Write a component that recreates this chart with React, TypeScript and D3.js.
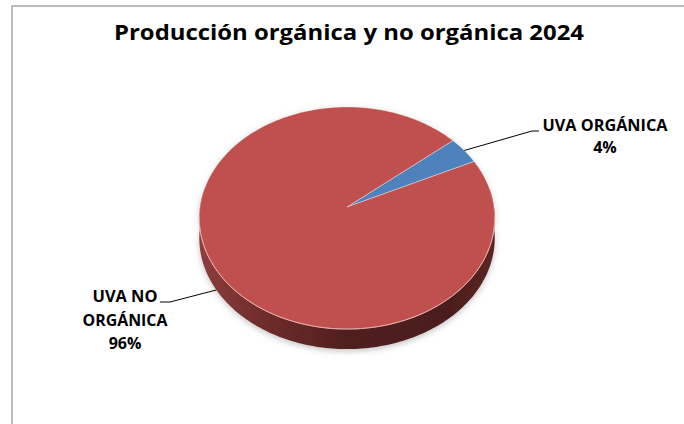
import React, { useMemo } from 'react';
import * as d3 from 'd3';

// Chart data
const categories = ['UVA ORGÁNICA', 'UVA NO ORGÁNICA'];
const shares = [4, 96];
const labelNames = [['UVA ORGÁNICA'], ['UVA NO', 'ORGÁNICA']];
const title = 'Producción orgánica y no orgánica 2024';

const W = 684;
const H = 424;

// 3D pie projection (perspective tilt like Excel's 3-D pie)
const CX = 347;
const CY = 207;
const K = 985;
const D = 6.7;
const COS = 0.664;
const SIN = 0.748;
const DEPTH = 20;
const START = (50 * Math.PI) / 180;

const proj = (theta: number, r = 1): [number, number] => {
  const X = r * Math.sin(theta);
  const Z = r * Math.cos(theta);
  const w = D + COS * Z;
  return [CX + (K * X) / w, CY - (Z * SIN * K) / w];
};

const arcPoints = (a0: number, a1: number, dy = 0): [number, number][] => {
  const n = Math.max(2, Math.ceil(Math.abs(a1 - a0) / 0.02));
  return d3.range(n + 1).map(i => {
    const [x, y] = proj(a0 + ((a1 - a0) * i) / n);
    return [x, y + dy] as [number, number];
  });
};

const line = d3.line<[number, number]>();

const colors = ['#4f81bd', '#c0504d'];
const sideIds = ['sideBlue', 'sideRed'];

// front part of the rim that shows the side wall
const FRONT0 = (80 * Math.PI) / 180;
const FRONT1 = (280 * Math.PI) / 180;

const clipFront = (a0: number, a1: number): [number, number] | null => {
  const TAU = Math.PI * 2;
  for (const shift of [-TAU, 0, TAU]) {
    const s = Math.max(a0 + shift, FRONT0);
    const e = Math.min(a1 + shift, FRONT1);
    if (e > s) return [s, e];
  }
  return null;
};

// rough Calibri-like widths per label line, so the text spans the same room
const fitWidth = (t: string) => {
  const table: Record<string, number> = {
    'UVA ORGÁNICA': 125,
    'UVA NO': 65,
    'ORGÁNICA': 85,
  };
  return table[t];
};

const App: React.FC = () => {
  const arcs = useMemo(
    () =>
      d3
        .pie<number>()
        .sort(null)
        .startAngle(START)
        .endAngle(START + Math.PI * 2)(shares),
    []
  );
  const total = d3.sum(shares);

  const fontFamily = '"Open Sans", "Noto Sans", sans-serif';

  // leader line anchors
  const midR = (arcs[0].startAngle + arcs[0].endAngle) / 2;
  const midL = (arcs[1].startAngle + arcs[1].endAngle) / 2;
  const pR = proj(midR);
  const pL = proj(midL);
  pL[1] += DEPTH;

  const frontTop = arcPoints(FRONT0, FRONT1);
  const frontBottom = arcPoints(FRONT0, FRONT1, DEPTH);
  const shadowPath = line([...frontTop, ...frontBottom.reverse()]) + 'Z';
  const fullTop = line(arcPoints(0, Math.PI * 2)) + 'Z';

  const labelText = (t: string, x: number, y: number, key: string) => {
    const w = fitWidth(t);
    return (
      <text
        key={key}
        x={x}
        y={y}
        textLength={w}
        lengthAdjust={w ? 'spacingAndGlyphs' : undefined}
      >
        {t}
      </text>
    );
  };

  return (
    <svg
      width={W}
      height={H}
      style={{ position: 'absolute', left: 0, top: 0, background: '#fff' }}
      fontFamily={fontFamily}
    >
      <defs>
        <linearGradient id="sideRed" gradientUnits="userSpaceOnUse" x1={200} y1={0} x2={495} y2={0}>
          <stop offset="0%" stopColor="#8e3d3b" />
          <stop offset="22%" stopColor="#6e2c2a" />
          <stop offset="50%" stopColor="#4f1f1e" />
          <stop offset="85%" stopColor="#4a1d1c" />
          <stop offset="100%" stopColor="#5c2523" />
        </linearGradient>
        <linearGradient id="sideBlue" gradientUnits="userSpaceOnUse" x1={200} y1={0} x2={495} y2={0}>
          <stop offset="0%" stopColor="#3d6594" />
          <stop offset="100%" stopColor="#223a57" />
        </linearGradient>
        <filter id="soft" x="-20%" y="-20%" width="140%" height="140%">
          <feGaussianBlur stdDeviation="3" />
        </filter>
      </defs>

      <rect x={12} y={6} width={W} height={H} fill="#fff" stroke="#a6a6a6" strokeWidth={1.5} />

      <text
        x={349}
        y={40}
        textAnchor="middle"
        fontSize={20.5}
        fontWeight={700}
        fill="#000"
        textLength={470}
        lengthAdjust="spacingAndGlyphs"
      >
        {title}
      </text>

      {/* soft shadow under the pie */}
      <g filter="url(#soft)" opacity={0.45}>
        <path d={shadowPath} fill="#777" transform="translate(0,2)" />
        <path d={fullTop} fill="#999" opacity={0.5} />
      </g>

      {/* side walls */}
      {arcs.map((a, i) => {
        const seg = clipFront(a.startAngle, a.endAngle);
        if (!seg) return null;
        const top = arcPoints(seg[0], seg[1]);
        const bottom = arcPoints(seg[0], seg[1], DEPTH).reverse();
        return <path key={`side-${i}`} d={line([...top, ...bottom]) + 'Z'} fill={`url(#${sideIds[i]})`} />;
      })}

      {/* top face */}
      {arcs.map((a, i) => (
        <path
          key={`top-${i}`}
          d={line([[CX, CY], ...arcPoints(a.startAngle, a.endAngle)]) + 'Z'}
          fill={colors[i]}
          stroke="#ffffff"
          strokeOpacity={0.45}
          strokeWidth={0.8}
          strokeLinejoin="round"
        />
      ))}

      {/* rim highlight */}
      <path
        d={line(arcPoints((95 * Math.PI) / 180, (265 * Math.PI) / 180)) ?? ''}
        fill="none"
        stroke="#e9aaa8"
        strokeWidth={0.9}
      />

      {/* leader lines */}
      <polyline
        points={`${pR[0]},${pR[1]} 532,131 539,131`}
        fill="none"
        stroke="#000"
        strokeWidth={1}
      />
      <polyline
        points={`${pL[0]},${pL[1]} 170,302 160,302`}
        fill="none"
        stroke="#000"
        strokeWidth={1}
      />

      {/* data labels */}
      <g fontWeight={700} fontSize={16} fill="#000" textAnchor="middle">
        {[...labelNames[0], `${Math.round((shares[0] / total) * 100)}%`].map((t, j) =>
          labelText(t, 605, 131 + j * 22, `r-${j}`)
        )}
        {[...labelNames[1], `${Math.round((shares[1] / total) * 100)}%`].map((t, j) =>
          labelText(t, 125, 302 + j * 23.5, `l-${j}`)
        )}
      </g>
      <title>{categories.join(' / ')}</title>
    </svg>
  );
};

export default App;
